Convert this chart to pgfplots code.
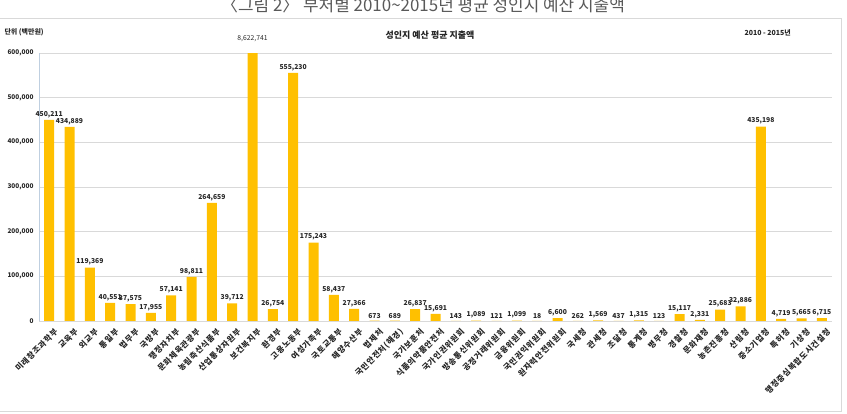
\documentclass[border=0pt]{standalone}
\usepackage{fontspec}
\setmainfont{Noto Sans CJK KR}
\usepackage{pgfplots}
\pgfplotsset{compat=1.18}
\usepackage{pgfplotstable}
\definecolor{bargold}{HTML}{FFC000}
\definecolor{gridgray}{HTML}{D9D9D9}
\definecolor{yaxisblue}{HTML}{BFCFE0}
\definecolor{txt}{HTML}{262626}

\pgfplotstableread{
x y lab
0 450211 450,211
1 434889 434,889
2 119369 119,369
3 40551 40,551
4 37575 37,575
5 17955 17,955
6 57141 57,141
7 98811 98,811
8 264659 264,659
9 39712 39,712
10 8622741 {}
11 26754 26,754
12 555230 555,230
13 175243 175,243
14 58437 58,437
15 27366 27,366
16 673 673
17 689 689
18 26837 26,837
19 15691 15,691
20 143 143
21 1089 1,089
22 121 121
23 1099 1,099
24 18 18
25 6600 6,600
26 262 262
27 1569 1,569
28 437 437
29 1315 1,315
30 123 123
31 15117 15,117
32 2331 2,331
33 25683 25,683
34 32886 32,886
35 435198 435,198
36 4719 4,719
37 5665 5,665
38 6715 6,715
}\data

\begin{document}
\begin{tikzpicture}
\useasboundingbox (0bp,0bp) rectangle (847bp,414bp);
\draw[gridgray] (-2bp,2.5bp) rectangle (841bp,396bp);
\node[overlay, anchor=base, font=\fontsize{17}{17}\selectfont, text=black!65] at (423bp,402bp) {〈그림 2〉 부처별 2010\textasciitilde 2015년 평균 성인지 예산 지출액};
\node[font=\bfseries\fontsize{9}{9}\selectfont, text=txt] at (430bp,379bp) {성인지 예산 평균 지출액};
\node[anchor=west, font=\bfseries\fontsize{7}{7}\selectfont, text=txt] at (1bp,382bp) {단위 (백만원)};
\node[anchor=west, font=\bfseries\fontsize{7}{7}\selectfont, text=txt] at (741bp,381bp) {2010 - 2015년};

\begin{axis}[
  at={(39bp,93bp)}, anchor=south west,
  scale only axis, width=793bp, height=268bp,
  xmin=-0.5, xmax=38.5, ymin=0, ymax=600000,
  restrict y to domain*=0:600000,
  ybar, bar width=10bp, bar shift=0pt,
  axis x line*=bottom, axis y line*=left,
  x axis line style={gridgray},
  y axis line style={yaxisblue, line width=0.8pt},
  ymajorgrids, grid style={gridgray, line width=0.6pt},
  major tick length=0pt,
  ytick={0,100000,...,600000},
  scaled y ticks=false,
  yticklabel style={font=\bfseries\fontsize{6.5}{6.5}\selectfont, text=txt, xshift=-2bp,
    /pgf/number format/fixed, /pgf/number format/1000 sep={,}, /pgf/number format/assume math mode=true},
  xtick={0,...,38},
  xticklabels={미래창조과학부,교육부,외교부,통일부,법무부,국방부,행정자치부,문화체육관광부,농림축산식품부,산업통상자원부,보건복지부,환경부,고용노동부,여성가족부,국토교통부,해양수산부,법제처,국민안전처(해경),국가보훈처,식품의약품안전처,국가인권위원회,방송통신위원회,공정거래위원회,금융위원회,국민권익위원회,원자력안전위원회,국세청,관세청,조달청,통계청,병무청,경찰청,문화재청,농촌진흥청,산림청,중소기업청,특허청,기상청,행정중심복합도시건설청},
  xticklabel style={rotate=45, anchor=east, font=\bfseries\fontsize{8}{8}\selectfont\addfontfeature{LetterSpace=9}, text=txt, inner sep=0pt, xshift=-1.5bp, yshift=-11.5bp},
  point meta=explicit symbolic,
  nodes near coords,
  nodes near coords style={font=\bfseries\fontsize{6.8}{6.8}\selectfont, text=txt, inner sep=2pt},
]
\addplot[fill=bargold, draw=none] table[x=x, y=y, meta=lab] {\data};
\coordinate (c11) at (axis cs:10,600000);
\end{axis}
\node[font=\fontsize{6.8}{6.8}\selectfont, text=txt] at ([yshift=14bp]c11) {8,622,741};
\end{tikzpicture}
\end{document}
